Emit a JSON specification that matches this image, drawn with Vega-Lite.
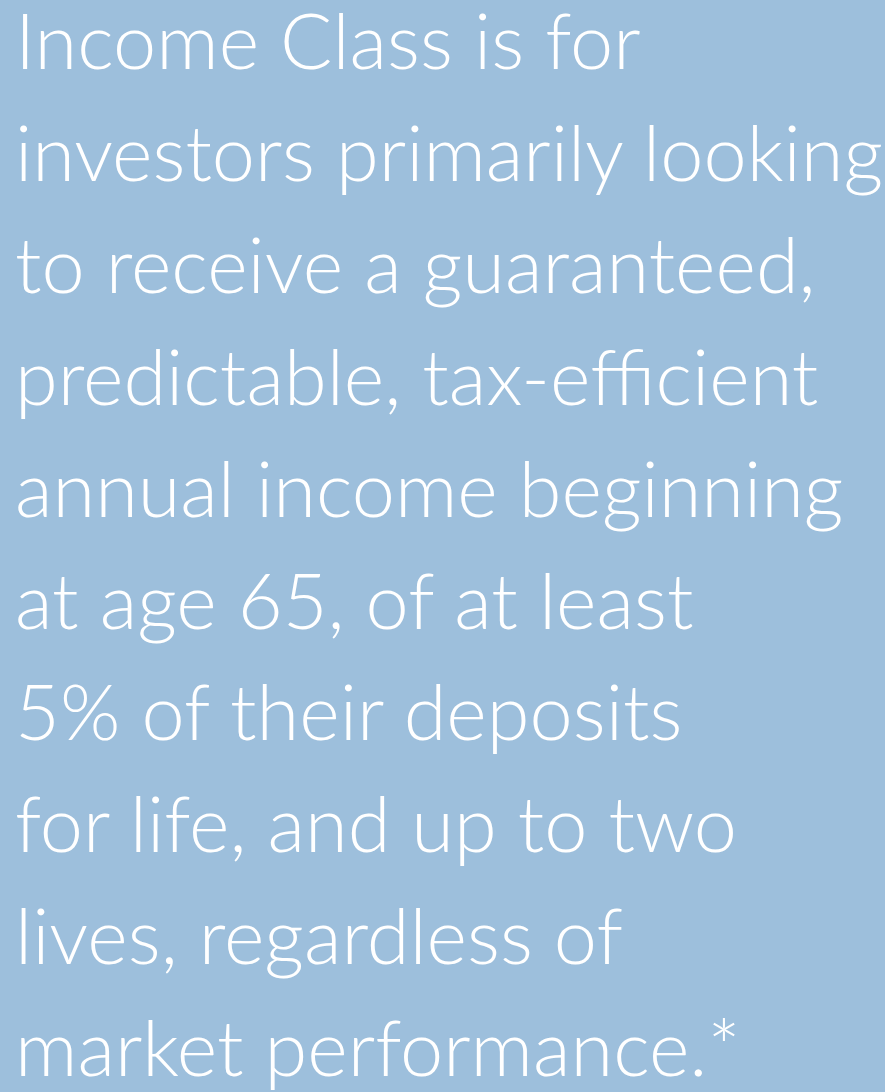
{
  "$schema": "https://vega.github.io/schema/vega-lite/v6.json",
  "width": 885,
  "height": 1092,
  "padding": 0,
  "autosize": {"type": "fit", "contains": "padding"},
  "background": "#9dbfdc",
  "config": {"view": {"stroke": null}},
  "data": {"values": [
    {"line": 1, "text": "Income Class is for"},
    {"line": 2, "text": "investors primarily looking"},
    {"line": 3, "text": "to receive a guaranteed,"},
    {"line": 4, "text": "predictable, tax-efficient"},
    {"line": 5, "text": "annual income beginning"},
    {"line": 6, "text": "at age 65, of at least"},
    {"line": 7, "text": "5% of their deposits"},
    {"line": 8, "text": "for life, and up to two"},
    {"line": 9, "text": "lives, regardless of"},
    {"line": 10, "text": "market performance.*"}
  ]},
  "mark": {"type": "text", "align": "left", "baseline": "alphabetic", "font": "Lato", "fontWeight": 300, "fontSize": 77.5, "color": "#ffffff"},
  "encoding": {
    "x": {"datum": 15, "type": "quantitative", "scale": {"domain": [0, 885]}, "axis": null},
    "y": {"field": "line", "type": "quantitative", "scale": {"domain": [0.383, 10.142], "reverse": true, "zero": false, "nice": false}, "axis": null},
    "text": {"field": "text"}
  }
}
